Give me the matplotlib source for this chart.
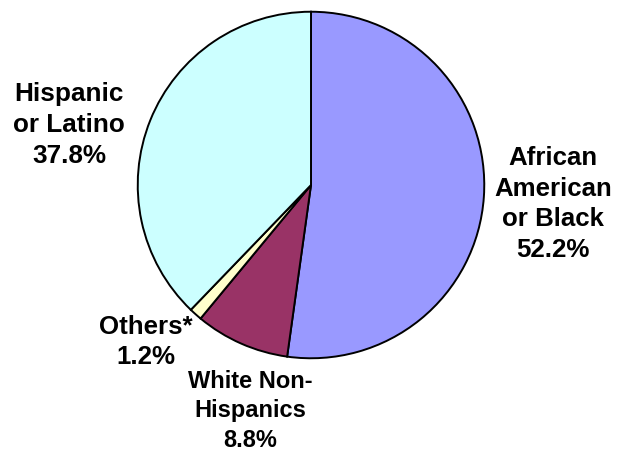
import matplotlib.pyplot as plt

groups = ['African\nAmerican\nor Black', 'White Non-\nHispanics', 'Others*', 'Hispanic\nor Latino']
shares = [52.2, 8.8, 1.2, 37.8]
colors = ['#9999FF', '#993366', '#FFFFCC', '#CCFFFF']

# label centres in figure pixels (x, y from top) and font sizes
label_pos = [(553, 204), (250, 411), (146, 342), (69, 125)]
label_size = [18.6, 17, 18.6, 18.8]

W, H = 618, 455
fig = plt.figure(figsize=(W / 100, H / 100), dpi=100)
cx, cy, r = 311, 185, 175
ax = fig.add_axes([(cx - r) / W, (H - cy - r) / H, 2 * r / W, 2 * r / H])

ax.pie(shares, colors=colors, startangle=90, counterclock=False,
       wedgeprops=dict(edgecolor='black', linewidth=1.4), radius=1.0)
ax.set_xlim(-1.01, 1.01)
ax.set_ylim(-1.01, 1.01)
ax.set_aspect('equal')
ax.axis('off')

for g, s, (px, py), fs in zip(groups, shares, label_pos, label_size):
    fig.text(px / W, 1 - py / H, f'{g}\n{s:.1f}%', ha='center', va='center',
             fontsize=fs, fontweight='bold', family='Liberation Sans',
             linespacing=1.36)

fig.savefig('out.png', dpi=100)
